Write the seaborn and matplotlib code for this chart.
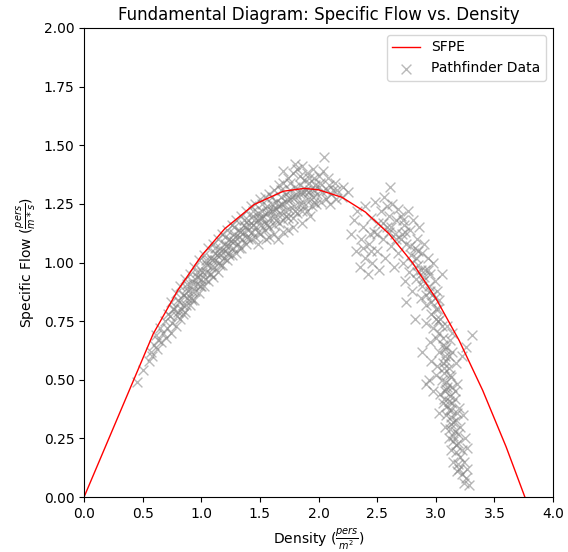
import pandas
import matplotlib
matplotlib.use('Agg')
import matplotlib.pyplot as plt
import seaborn as sns

# SFPE curve
sfpeDensity = [0.0, 0.59, 0.8, 1.0, 1.2, 1.45, 1.7, 1.88, 2.0, 2.2, 2.4, 2.6, 2.8, 3.0, 3.2, 3.4, 3.6, 3.76]
sfpeFlow = [0.0, 0.696, 0.882, 1.028, 1.144, 1.247, 1.304, 1.316, 1.310, 1.278, 1.215, 1.123, 1.000, 0.848, 0.667, 0.455, 0.214, 0.0]

# Pathfinder points: rising branch (density, flow)
risingPoints = [
    (0.45, 0.49), (0.50, 0.54), (0.55, 0.58), (0.57, 0.62), (0.58, 0.60), (0.60, 0.65),
    (0.62, 0.63), (0.63, 0.67), (0.61, 0.69), (0.66, 0.66), (0.67, 0.70), (0.65, 0.72),
    (0.70, 0.68), (0.71, 0.72), (0.69, 0.75), (0.72, 0.78),
    (0.74, 0.70), (0.75, 0.74), (0.73, 0.77), (0.76, 0.80), (0.74, 0.83),
    (0.78, 0.73), (0.79, 0.77), (0.77, 0.80), (0.80, 0.84), (0.78, 0.87),
    (0.82, 0.76), (0.83, 0.80), (0.81, 0.83), (0.84, 0.86), (0.82, 0.90),
    (0.86, 0.79), (0.87, 0.82), (0.85, 0.86), (0.88, 0.89), (0.86, 0.93),
    (0.90, 0.82), (0.91, 0.85), (0.89, 0.88), (0.92, 0.92), (0.90, 0.95),
    (0.94, 0.84), (0.95, 0.88), (0.93, 0.91), (0.96, 0.94), (0.94, 0.98),
    (0.98, 0.87), (0.99, 0.90), (0.97, 0.94), (1.00, 0.97), (0.98, 1.01),
    (1.02, 0.90), (1.03, 0.93), (1.01, 0.96), (1.04, 1.00), (1.02, 1.03),
    (1.06, 0.92), (1.07, 0.95), (1.05, 0.99), (1.08, 1.02), (1.06, 1.06),
    (1.10, 0.94), (1.11, 0.98), (1.09, 1.01), (1.12, 1.04), (1.10, 1.08),
    (1.14, 0.96), (1.15, 1.00), (1.13, 1.03), (1.16, 1.06), (1.14, 1.10),
    (1.18, 0.99), (1.19, 1.02), (1.17, 1.05), (1.20, 1.08), (1.18, 1.12),
    (1.22, 1.01), (1.23, 1.04), (1.21, 1.07), (1.24, 1.10), (1.22, 1.14),
    (1.26, 1.03), (1.27, 1.06), (1.25, 1.09), (1.28, 1.12), (1.26, 1.16),
    (1.30, 1.04), (1.31, 1.08), (1.29, 1.11), (1.32, 1.14), (1.30, 1.18),
    (1.34, 1.06), (1.35, 1.10), (1.33, 1.13), (1.36, 1.16), (1.34, 1.20),
    (1.38, 1.08), (1.39, 1.11), (1.37, 1.15), (1.40, 1.18), (1.38, 1.22),
    (1.42, 1.10), (1.43, 1.13), (1.41, 1.16), (1.44, 1.20), (1.42, 1.24),
    (1.46, 1.11), (1.47, 1.15), (1.45, 1.18), (1.48, 1.21), (1.46, 1.25),
    (1.50, 1.12), (1.51, 1.16), (1.49, 1.19), (1.52, 1.22), (1.50, 1.27),
    (1.54, 1.14), (1.55, 1.17), (1.53, 1.20), (1.56, 1.24), (1.54, 1.28),
    (1.58, 1.15), (1.59, 1.19), (1.57, 1.22), (1.60, 1.25), (1.58, 1.29),
    (1.62, 1.16), (1.63, 1.20), (1.61, 1.23), (1.64, 1.26), (1.62, 1.31),
    (1.66, 1.17), (1.67, 1.21), (1.65, 1.24), (1.68, 1.28), (1.66, 1.33),
    (1.70, 1.18), (1.71, 1.22), (1.69, 1.25), (1.72, 1.29), (1.70, 1.34),
    (1.74, 1.19), (1.75, 1.23), (1.73, 1.27), (1.76, 1.31), (1.74, 1.36),
    (1.78, 1.19), (1.79, 1.24), (1.77, 1.28), (1.80, 1.32), (1.78, 1.38),
    (1.82, 1.21), (1.83, 1.25), (1.81, 1.29), (1.84, 1.33), (1.82, 1.40),
    (1.86, 1.22), (1.87, 1.26), (1.85, 1.30), (1.88, 1.35), (1.86, 1.41),
    (1.90, 1.22), (1.91, 1.27), (1.89, 1.31), (1.92, 1.34), (1.90, 1.38),
    (1.94, 1.24), (1.95, 1.28), (1.93, 1.31), (1.96, 1.36),
    (1.98, 1.25), (1.99, 1.29), (1.97, 1.33), (2.00, 1.37),
    (2.02, 1.26), (2.03, 1.30), (2.01, 1.34), (2.04, 1.39),
    (2.06, 1.27), (2.07, 1.31), (2.05, 1.45),
    (2.10, 1.25), (2.11, 1.29), (2.09, 1.33),
    (2.15, 1.27), (2.16, 1.31), (2.14, 1.34),
    (2.20, 1.28), (2.21, 1.32), (2.25, 1.30),
]

# extra points filling the dense middle of the rising band
risingFill = [
    (0.80, 0.79), (0.84, 0.82), (0.88, 0.85), (0.92, 0.88), (0.96, 0.91), (1.00, 0.93),
    (1.04, 0.96), (1.08, 0.98), (1.12, 1.01), (1.16, 1.03), (1.20, 1.05), (1.24, 1.07),
    (1.28, 1.09), (1.32, 1.11), (1.36, 1.13), (1.40, 1.14), (1.44, 1.16), (1.48, 1.18),
    (1.52, 1.19), (1.56, 1.21), (1.60, 1.22), (1.64, 1.23), (1.68, 1.25), (1.72, 1.26),
    (1.76, 1.27), (1.80, 1.28), (1.84, 1.29), (1.88, 1.30), (1.92, 1.30), (1.96, 1.31),
    (0.84, 0.78), (0.92, 0.84), (1.00, 0.90), (1.08, 0.95), (1.16, 0.99), (1.24, 1.03),
    (1.32, 1.06), (1.40, 1.10), (1.48, 1.13), (1.56, 1.16), (1.64, 1.18), (1.72, 1.20),
    (1.80, 1.22), (1.88, 1.24), (1.96, 1.26),
    (0.88, 0.91), (0.96, 0.96), (1.04, 1.01), (1.12, 1.06), (1.20, 1.11), (1.28, 1.15),
    (1.36, 1.18), (1.44, 1.22), (1.52, 1.25), (1.60, 1.28), (1.68, 1.31), (1.76, 1.34),
    (1.84, 1.37), (1.92, 1.36), (2.00, 1.32), (2.08, 1.36), (2.12, 1.31), (1.80, 1.42),
    (1.95, 1.40), (1.70, 1.39),
    (1.55, 1.10), (1.62, 1.12), (1.65, 1.10), (1.70, 1.13), (1.74, 1.14), (1.78, 1.15),
    (1.86, 1.17), (1.93, 1.20), (1.48, 1.08), (1.58, 1.11),
]

# second cluster right of the peak
blobPoints = [
    (2.28, 1.12), (2.30, 1.18), (2.32, 1.05), (2.33, 1.22), (2.35, 0.98), (2.36, 1.10),
    (2.38, 1.15), (2.40, 1.02), (2.40, 1.24), (2.42, 0.95), (2.43, 1.08), (2.45, 1.19),
    (2.46, 1.00), (2.47, 1.13), (2.48, 1.26), (2.50, 1.05), (2.51, 1.17), (2.52, 0.97),
    (2.53, 1.22), (2.55, 1.10), (2.56, 1.28), (2.57, 1.02), (2.58, 1.15), (2.60, 1.20),
    (2.61, 1.32), (2.62, 1.07), (2.63, 1.25), (2.64, 0.98), (2.65, 1.12), (2.66, 1.18),
    (2.68, 1.23), (2.68, 1.04),
    (2.38, 1.06), (2.44, 1.12), (2.50, 1.12), (2.55, 1.17), (2.60, 1.13), (2.62, 1.15),
    (2.66, 1.10), (2.70, 1.10), (2.58, 1.24), (2.45, 1.05),
]

# falling branch
fallingPoints = [
    (2.70, 1.20), (2.71, 1.12), (2.72, 1.00), (2.73, 1.16), (2.74, 0.92), (2.75, 1.08),
    (2.76, 1.22), (2.77, 0.96), (2.78, 1.14), (2.79, 1.03), (2.80, 0.88), (2.81, 1.18),
    (2.82, 1.06), (2.83, 0.93), (2.84, 1.10), (2.85, 0.99), (2.86, 1.15), (2.87, 0.85),
    (2.88, 1.04), (2.89, 0.92), (2.90, 1.08), (2.91, 0.97), (2.92, 0.82), (2.93, 1.02),
    (2.94, 0.90), (2.95, 0.95), (2.96, 0.78), (2.97, 0.86), (2.98, 1.00), (2.99, 0.92),
    (3.00, 0.80), (3.01, 0.88), (3.02, 0.75), (3.03, 0.84), (3.05, 0.95),
    (2.75, 0.83), (2.82, 0.76), (2.88, 0.62), (2.92, 0.48),
    (2.92, 0.74), (2.98, 0.72), (3.04, 0.76), (3.10, 0.73), (3.14, 0.70),
    (2.95, 0.66), (3.00, 0.68), (3.06, 0.65), (3.12, 0.67),
    (3.03, 0.62), (3.08, 0.60), (3.14, 0.62), (3.08, 0.63),
    (2.96, 0.58), (3.01, 0.56), (3.06, 0.57), (3.11, 0.55), (3.17, 0.57), (3.09, 0.58),
    (2.94, 0.50), (3.00, 0.52), (3.05, 0.50), (3.09, 0.49), (3.13, 0.51), (3.18, 0.48),
    (3.07, 0.53), (3.10, 0.47),
    (2.98, 0.45), (3.04, 0.44), (3.08, 0.45), (3.12, 0.43), (3.16, 0.45), (3.07, 0.42),
    (3.06, 0.40), (3.10, 0.39), (3.14, 0.40), (3.20, 0.38), (3.11, 0.37),
    (3.03, 0.36), (3.09, 0.35), (3.13, 0.34), (3.17, 0.33), (3.23, 0.35),
    (3.08, 0.30), (3.12, 0.29), (3.16, 0.28), (3.21, 0.30), (3.13, 0.31),
    (3.11, 0.25), (3.15, 0.24), (3.19, 0.23), (3.25, 0.25), (3.15, 0.26),
    (3.13, 0.20), (3.17, 0.19), (3.22, 0.20), (3.27, 0.21),
    (3.15, 0.15), (3.19, 0.14), (3.24, 0.15),
    (3.18, 0.11), (3.22, 0.10), (3.27, 0.12), (3.24, 0.06), (3.28, 0.05),
    (3.31, 0.69), (3.26, 0.64), (3.22, 0.60),
]

# extra points filling the dense core of the falling branch
fallingFill = [
    (2.80, 1.00), (2.84, 0.96), (2.88, 0.90), (2.92, 0.86), (2.96, 0.83), (3.00, 0.76),
    (3.03, 0.70), (3.06, 0.68), (3.09, 0.64), (3.11, 0.60), (3.07, 0.55), (3.12, 0.52),
    (3.09, 0.46), (3.14, 0.47), (3.11, 0.41), (3.16, 0.42), (3.13, 0.37), (3.18, 0.36),
    (3.15, 0.32), (3.19, 0.27), (3.17, 0.22), (3.21, 0.17), (3.20, 0.12), (3.26, 0.08),
    (2.78, 1.07), (2.74, 1.13), (2.72, 1.18), (2.83, 1.02), (2.87, 0.97), (2.90, 0.94),
    (2.95, 0.88), (2.99, 0.85), (3.02, 0.80), (3.05, 0.73), (2.85, 1.05), (2.93, 0.97),
]

allPoints = risingPoints + risingFill + blobPoints + fallingPoints + fallingFill
pathfinder = pandas.DataFrame(allPoints, columns=['density', 'flow'])
sfpe = pandas.DataFrame({'density': sfpeDensity, 'flow': sfpeFlow})

fig = plt.figure(figsize=(5.68, 5.52), dpi=100)
ax = fig.add_subplot(111)
fig.subplots_adjust(left=0.148, right=0.9736, top=0.9493, bottom=0.0996)

sns.lineplot(data=sfpe, x='density', y='flow', color='red', linewidth=1, label='SFPE', ax=ax, sort=False)
sns.scatterplot(data=pathfinder, x='density', y='flow', color='gray', marker='x', s=50,
                linewidth=1, alpha=0.55, label='Pathfinder Data', ax=ax)

ax.set_xlim(0, 4)
ax.set_ylim(0, 2)
ax.set_xticks([0.0, 0.5, 1.0, 1.5, 2.0, 2.5, 3.0, 3.5, 4.0])
ax.set_yticks([0.0, 0.25, 0.5, 0.75, 1.0, 1.25, 1.5, 1.75, 2.0])
ax.set_xlabel(r'Density ($\frac{pers}{m^2}$)')
ax.set_ylabel(r'Specific Flow ($\frac{pers}{m*s}$)')
ax.set_title('Fundamental Diagram: Specific Flow vs. Density')
ax.legend(loc='upper right')

fig.savefig('out.png', dpi=100)
